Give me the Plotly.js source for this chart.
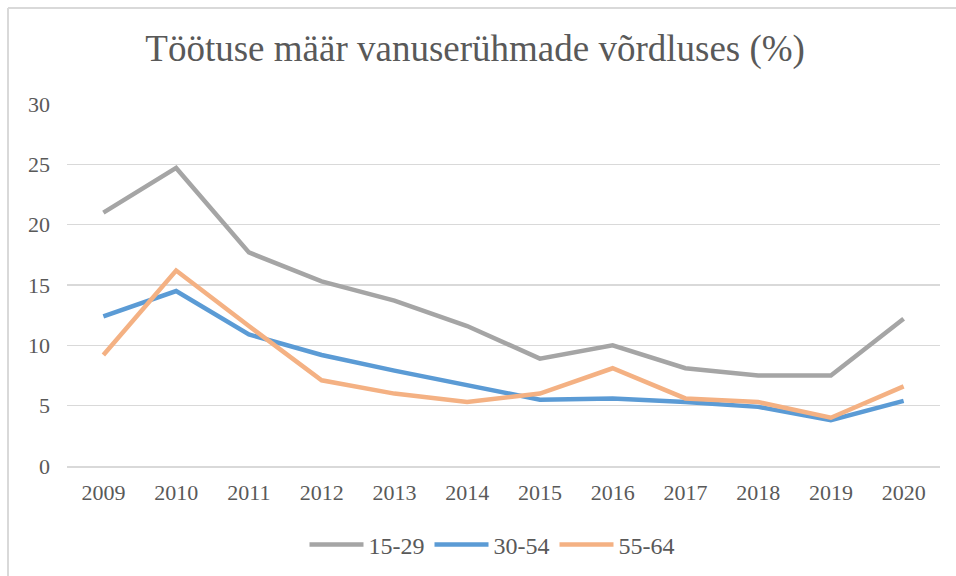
<!DOCTYPE html>
<html>
<head>
<meta charset="utf-8">
<script src="https://cdn.plot.ly/plotly-3.0.1.min.js"></script>
<style>
  html, body { margin: 0; padding: 0; background: #ffffff; }
  #chart { width: 956px; height: 576px; }
</style>
</head>
<body>
<div id="chart"></div>
<script>
const years = ['2009','2010','2011','2012','2013','2014','2015','2016','2017','2018','2019','2020'];
const age15_29 = [21.0, 24.7, 17.7, 15.3, 13.7, 11.6, 8.9, 10.0, 8.1, 7.5, 7.5, 12.2];
const age30_54 = [12.4, 14.5, 10.9, 9.2, 7.9, 6.7, 5.5, 5.6, 5.3, 4.9, 3.8, 5.4];
const age55_64 = [9.2, 16.2, 11.6, 7.1, 6.0, 5.3, 6.0, 8.1, 5.6, 5.3, 4.0, 6.6];
const seriesNames = ['15-29', '30-54', '55-64'];
const seriesColors = ['#A5A5A5', '#5B9BD5', '#F4B183'];
const titleText = 'Töötuse määr vanuserühmade võrdluses (%)';

const serif = '"Liberation Serif", "Times New Roman", serif';
const textColor = '#595959';

const allSeries = [age15_29, age30_54, age55_64];
const traces = allSeries.map((vals, i) => ({
  type: 'scatter',
  mode: 'lines',
  x: years,
  y: vals,
  name: seriesNames[i],
  line: { color: seriesColors[i], width: 4.5 },
  hoverinfo: 'x+y+name'
}));

const layout = {
  width: 956,
  height: 576,
  paper_bgcolor: '#ffffff',
  plot_bgcolor: '#ffffff',
  margin: { l: 67, r: 16, t: 104, b: 110 },
  font: { family: serif, color: textColor, size: 22 },
  title: {
    text: titleText,
    font: { family: serif, size: 37, color: textColor },
    x: 0.497,
    xref: 'container',
    xanchor: 'center',
    y: 1 - 48 / 576,
    yref: 'container',
    yanchor: 'middle'
  },
  xaxis: {
    type: 'category',
    range: [-0.5, 11.5],
    showgrid: false,
    zeroline: false,
    showline: true,
    linecolor: '#D9D9D9',
    linewidth: 1.5,
    ticks: '',
    ticklabelstandoff: 6,
    tickfont: { family: serif, size: 22, color: textColor }
  },
  yaxis: {
    range: [0, 30],
    dtick: 5,
    tick0: 0,
    showgrid: true,
    gridcolor: '#D9D9D9',
    gridwidth: 1.5,
    zeroline: false,
    showline: false,
    ticks: '',
    ticklabelstandoff: 16,
    tickfont: { family: serif, size: 22, color: textColor }
  },
  showlegend: true,
  legend: {
    orientation: 'h',
    xref: 'container',
    yref: 'container',
    x: 492 / 956,
    xanchor: 'center',
    y: 1 - 545 / 576,
    yanchor: 'middle',
    font: { family: serif, size: 24, color: textColor },
    itemwidth: 54,
    traceorder: 'normal'
  },
  shapes: [
    { type: 'line', xref: 'paper', yref: 'paper',
      x0: (8 - 67) / 873, x1: 1.2, y0: (466 - 8) / 362, y1: (466 - 8) / 362,
      line: { color: '#D9D9D9', width: 2 } },
    { type: 'line', xref: 'paper', yref: 'paper',
      x0: (8 - 67) / 873, x1: (8 - 67) / 873, y0: (466 - 8) / 362, y1: -0.5,
      line: { color: '#D9D9D9', width: 2 } }
  ]
};

Plotly.newPlot('chart', traces, layout, { displayModeBar: false, staticPlot: true });
</script>
</body>
</html>
